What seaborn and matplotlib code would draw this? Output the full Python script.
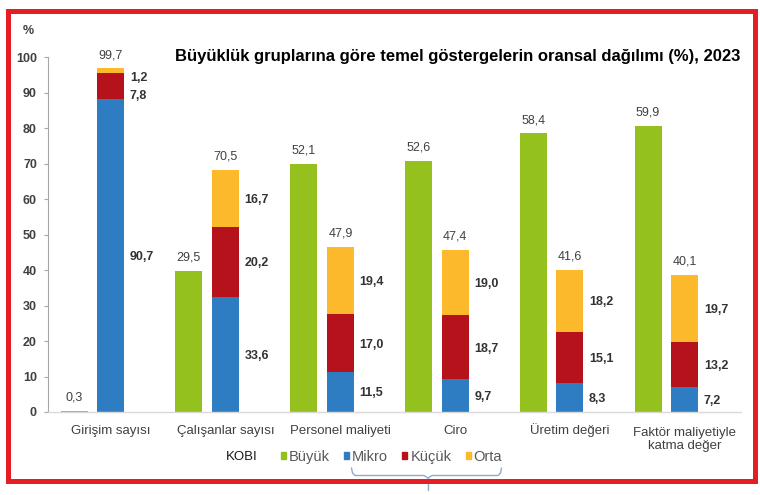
import numpy as np
import pandas as pd
import matplotlib
matplotlib.use("Agg")
import matplotlib.pyplot as plt
import seaborn as sns
from matplotlib.patches import Patch, Rectangle
from matplotlib.lines import Line2D
from matplotlib.transforms import ScaledTranslation

# categories and bar heights (percent axis)
categories = ["Girişim sayısı", "Çalışanlar sayısı", "Personel maliyeti", "Ciro",
              "Üretim değeri", "Faktör maliyetiyle\nkatma değer"]
buyuk = [0.4, 39.8, 70.0, 70.8, 78.5, 80.7]
mikro = [88.1, 32.4, 11.3, 9.2, 8.1, 7.0]
kucuk = [7.3, 19.7, 16.2, 18.1, 14.4, 12.6]
orta = [1.4, 16.2, 19.0, 18.4, 17.6, 19.1]

# printed value labels
buyuk_labels = ["0,3", "29,5", "52,1", "52,6", "58,4", "59,9"]
kobi_labels = ["99,7", "70,5", "47,9", "47,4", "41,6", "40,1"]
mikro_labels = ["90,7", "33,6", "11,5", "9,7", "8,3", "7,2"]
kucuk_labels = ["7,8", "20,2", "17,0", "18,7", "15,1", "13,2"]
orta_labels = ["1,2", "16,7", "19,4", "19,0", "18,2", "19,7"]

series_names = ["Büyük", "Mikro", "Küçük", "Orta"]
title = "Büyüklük gruplarına göre temel göstergelerin oransal dağılımı (%), 2023"

GREEN = "#95C11F"
BLUE = "#2E7CC2"
RED = "#B5121B"
YELLOW = "#FBB92B"
colors = [GREEN, BLUE, RED, YELLOW]

sns.set_theme(style="white")
plt.rcParams["font.family"] = ["Liberation Sans", "DejaVu Sans"]

W, H = 760, 495
fig = plt.figure(figsize=(W / 100, H / 100), dpi=100)
ax = fig.add_axes([48 / W, 1 - 412 / H, 693 / W, 355 / H])

df = pd.DataFrame({"pos": np.arange(len(categories)), "buyuk": buyuk,
                   "mikro": mikro, "kucuk": kucuk, "orta": orta})
df["pos_b"] = df["pos"] - 0.32
df["top_k"] = df["mikro"] + df["kucuk"]
df["top_o"] = df["top_k"] + df["orta"]

bw = 0.235
common = dict(native_scale=True, width=bw, saturation=1, linewidth=0, errorbar=None, ax=ax)
sns.barplot(data=df, x="pos_b", y="buyuk", color=GREEN, **common)
# stacked KOBI bar: draw cumulative totals, largest first
sns.barplot(data=df, x="pos", y="top_o", color=YELLOW, **common)
sns.barplot(data=df, x="pos", y="top_k", color=RED, **common)
sns.barplot(data=df, x="pos", y="mikro", color=BLUE, **common)

# labels
nudge = {(0, "kucuk"): -2.4, (0, "orta"): -1.5}
for i, r in df.iterrows():
    ax.annotate(buyuk_labels[i], (r.pos_b, r.buyuk), xytext=(0, 5), textcoords="offset points",
                ha="center", va="bottom", fontsize=9, color="#404040")
    ax.annotate(kobi_labels[i], (r.pos, r.top_o), xytext=(0, 5), textcoords="offset points",
                ha="center", va="bottom", fontsize=9, color="#404040")
    segs = [("mikro", mikro_labels[i], 0, r.mikro),
            ("kucuk", kucuk_labels[i], r.mikro, r.top_k),
            ("orta", orta_labels[i], r.top_k, r.top_o)]
    for key, lbl, lo, hi in segs:
        y = (lo + hi) / 2 + nudge.get((i, key), 0)
        ax.annotate(lbl, (r.pos + bw / 2, y), xytext=(4, -1), textcoords="offset points",
                    ha="left", va="center", fontsize=9, fontweight="bold", color="#333333")

ax.set_xlim(-0.547, 5.49)
ax.set_ylim(0, 100)
ax.set_xticks(df["pos"], categories)
ax.set_yticks(range(0, 101, 10))
ax.set_xlabel("")
ax.set_ylabel("")
ax.tick_params(axis="x", bottom=False, length=0, pad=15.5, labelsize=9.5, labelcolor="#404040")
ax.tick_params(axis="y", left=True, length=3, width=0.8, color="#a6a6a6", pad=5,
               labelsize=9, labelcolor="#404040")
for t in ax.get_yticklabels():
    t.set_fontweight("bold")
for t in ax.get_xticklabels():
    t.set_verticalalignment("baseline")
    t.set_linespacing(1.1)
# two-line label: baseline anchors its last line, so push it down one line
last = ax.get_xticklabels()[-1]
last.set_transform(last.get_transform() + ScaledTranslation(0, -0.15, fig.dpi_scale_trans))
for s in ["top", "right"]:
    ax.spines[s].set_visible(False)
ax.spines["left"].set_color("#a6a6a6")
ax.spines["left"].set_linewidth(0.8)
ax.spines["bottom"].set_color("#d9d9d9")
ax.spines["bottom"].set_linewidth(1.0)

fig.text(28 / W, 1 - 31 / H, "%", ha="center", va="center", fontsize=9,
         fontweight="bold", color="#404040")
fig.text(740 / W, 1 - 56 / H, title, ha="right", va="center", fontsize=12,
         fontweight="bold", color="black")

# legend
handles = [Patch(color=c, label=n) for c, n in zip(colors, series_names)]
fig.legend(handles=handles, loc="center left", bbox_to_anchor=(281 / W, 1 - 457 / H), ncol=4,
           frameon=False, fontsize=10.5, handlelength=0.35, handleheight=0.35, handletextpad=0.2,
           columnspacing=0.97, borderpad=0, borderaxespad=0, labelcolor="#595959")
fig.text(242 / W, 1 - 457 / H, "KOBI", ha="center", va="center", fontsize=9.5, color="#1a1a1a")

# KOBI bracket under Mikro..Orta
bx = [351.5, 352.5, 355, 424, 428, 432, 498, 500.5, 501.5]
by = [468, 473, 475.5, 475.5, 478, 475.5, 475.5, 473, 468]
fig.add_artist(Line2D([x / W for x in bx], [1 - y / H for y in by], transform=fig.transFigure,
                      color="#8FAAC9", lw=1))
fig.add_artist(Line2D([428 / W, 428 / W], [1 - 478 / H, 1 - 490 / H], transform=fig.transFigure,
                      color="#8FAAC9", lw=1))

# red frame
fig.add_artist(Rectangle((7.5 / W, 1 - 481 / H), (755 - 7.5) / W, (481 - 11) / H,
                         transform=fig.transFigure, fill=False, edgecolor="#E31E24",
                         lw=3.6, zorder=10))

fig.savefig("out.png", dpi=100)
